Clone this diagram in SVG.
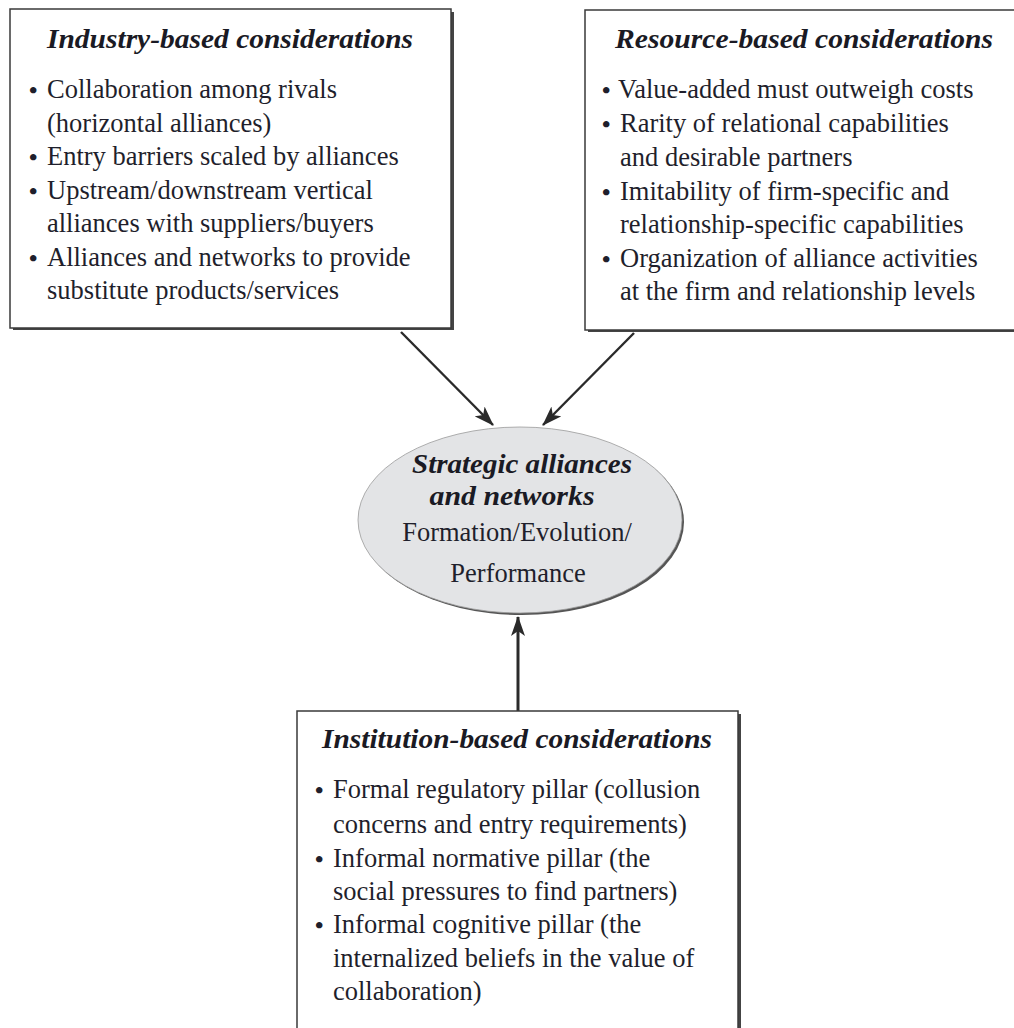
<svg xmlns="http://www.w3.org/2000/svg" width="1014" height="1028" viewBox="0 0 1014 1028">
<defs>
<style>
.box{fill:#ffffff;stroke:#3a3a3a;stroke-width:1.5}
.shadow{fill:#444444}
.t{font-family:"Liberation Serif",serif;font-size:26.5px;fill:#1f1f2c}
.h{font-family:"Liberation Serif",serif;font-size:27px;font-weight:bold;font-style:italic;fill:#1a1a24}
.b{font-family:"Liberation Serif",serif;font-size:24px;font-weight:bold;fill:#1f1f2c}
.conn{stroke:#2a2a2a;stroke-width:2.4;fill:none}
</style>
<marker id="arr" viewBox="0 0 20 14" refX="19" refY="7" markerWidth="20" markerHeight="14" markerUnits="userSpaceOnUse" orient="auto">
<path d="M0,0 L20,7 L0,14 L5,7 Z" fill="#2a2a2a"/>
</marker>
</defs>
<rect width="1014" height="1028" fill="#ffffff"/>

<g id="connectors">
<line class="conn" x1="401" y1="332" x2="493" y2="425" marker-end="url(#arr)"/>
<line class="conn" x1="634" y1="333" x2="543" y2="425" marker-end="url(#arr)"/>
<line class="conn" x1="518" y1="711" x2="518" y2="617" marker-end="url(#arr)" style="stroke-width:3"/>
</g>

<g id="industry">
<rect class="shadow" x="13" y="12" width="441" height="318"/>
<rect class="box" x="10" y="9" width="441" height="319"/>
<text class="h" x="47" y="48" textLength="366" lengthAdjust="spacingAndGlyphs">Industry-based considerations</text>
<text class="b" x="29" y="98">•</text>
<text class="t" x="47" y="98">Collaboration among rivals</text>
<text class="t" x="47" y="132">(horizontal alliances)</text>
<text class="b" x="29" y="165">•</text>
<text class="t" x="47" y="165">Entry barriers scaled by alliances</text>
<text class="b" x="29" y="199">•</text>
<text class="t" x="47" y="199">Upstream/downstream vertical</text>
<text class="t" x="47" y="232">alliances with suppliers/buyers</text>
<text class="b" x="29" y="266">•</text>
<text class="t" x="47" y="266">Alliances and networks to provide</text>
<text class="t" x="47" y="299">substitute products/services</text>
</g>

<g id="resource">
<rect class="shadow" x="588" y="13" width="440" height="319"/>
<rect class="box" x="585" y="10" width="440" height="320"/>
<text class="h" x="615" y="48" textLength="378" lengthAdjust="spacingAndGlyphs">Resource-based considerations</text>
<text class="b" x="602" y="98">•</text>
<text class="t" x="618" y="98">Value-added must outweigh costs</text>
<text class="b" x="602" y="132">•</text>
<text class="t" x="620" y="132">Rarity of relational capabilities</text>
<text class="t" x="620" y="166">and desirable partners</text>
<text class="b" x="602" y="200">•</text>
<text class="t" x="620" y="200">Imitability of firm-specific and</text>
<text class="t" x="620" y="233">relationship-specific capabilities</text>
<text class="b" x="602" y="267">•</text>
<text class="t" x="620" y="267">Organization of alliance activities</text>
<text class="t" x="620" y="300">at the firm and relationship levels</text>
</g>

<g id="alliances">
<ellipse cx="522" cy="522" rx="162" ry="93" fill="#555555"/>
<ellipse cx="520" cy="520" rx="162" ry="93" fill="#e3e4e6" stroke="#9a9a9a" stroke-width="0.8"/>
<text class="h" x="522" y="473" text-anchor="middle" textLength="220" lengthAdjust="spacingAndGlyphs">Strategic alliances</text>
<text class="h" x="512" y="505" text-anchor="middle" textLength="165" lengthAdjust="spacingAndGlyphs">and networks</text>
<text class="t" x="517" y="541" text-anchor="middle">Formation/Evolution/</text>
<text class="t" x="518" y="582" text-anchor="middle">Performance</text>
</g>

<g id="institution">
<rect class="shadow" x="300" y="714" width="441" height="330"/>
<rect class="box" x="297" y="711" width="441" height="330"/>
<text class="h" x="322" y="748" textLength="390" lengthAdjust="spacingAndGlyphs">Institution-based considerations</text>
<text class="b" x="315" y="798">•</text>
<text class="t" x="333" y="798">Formal regulatory pillar (collusion</text>
<text class="t" x="333" y="833">concerns and entry requirements)</text>
<text class="b" x="315" y="867">•</text>
<text class="t" x="333" y="867">Informal normative pillar (the</text>
<text class="t" x="333" y="900">social pressures to find partners)</text>
<text class="b" x="315" y="933">•</text>
<text class="t" x="333" y="933">Informal cognitive pillar (the</text>
<text class="t" x="333" y="967">internalized beliefs in the value of</text>
<text class="t" x="333" y="1000">collaboration)</text>
</g>
</svg>
